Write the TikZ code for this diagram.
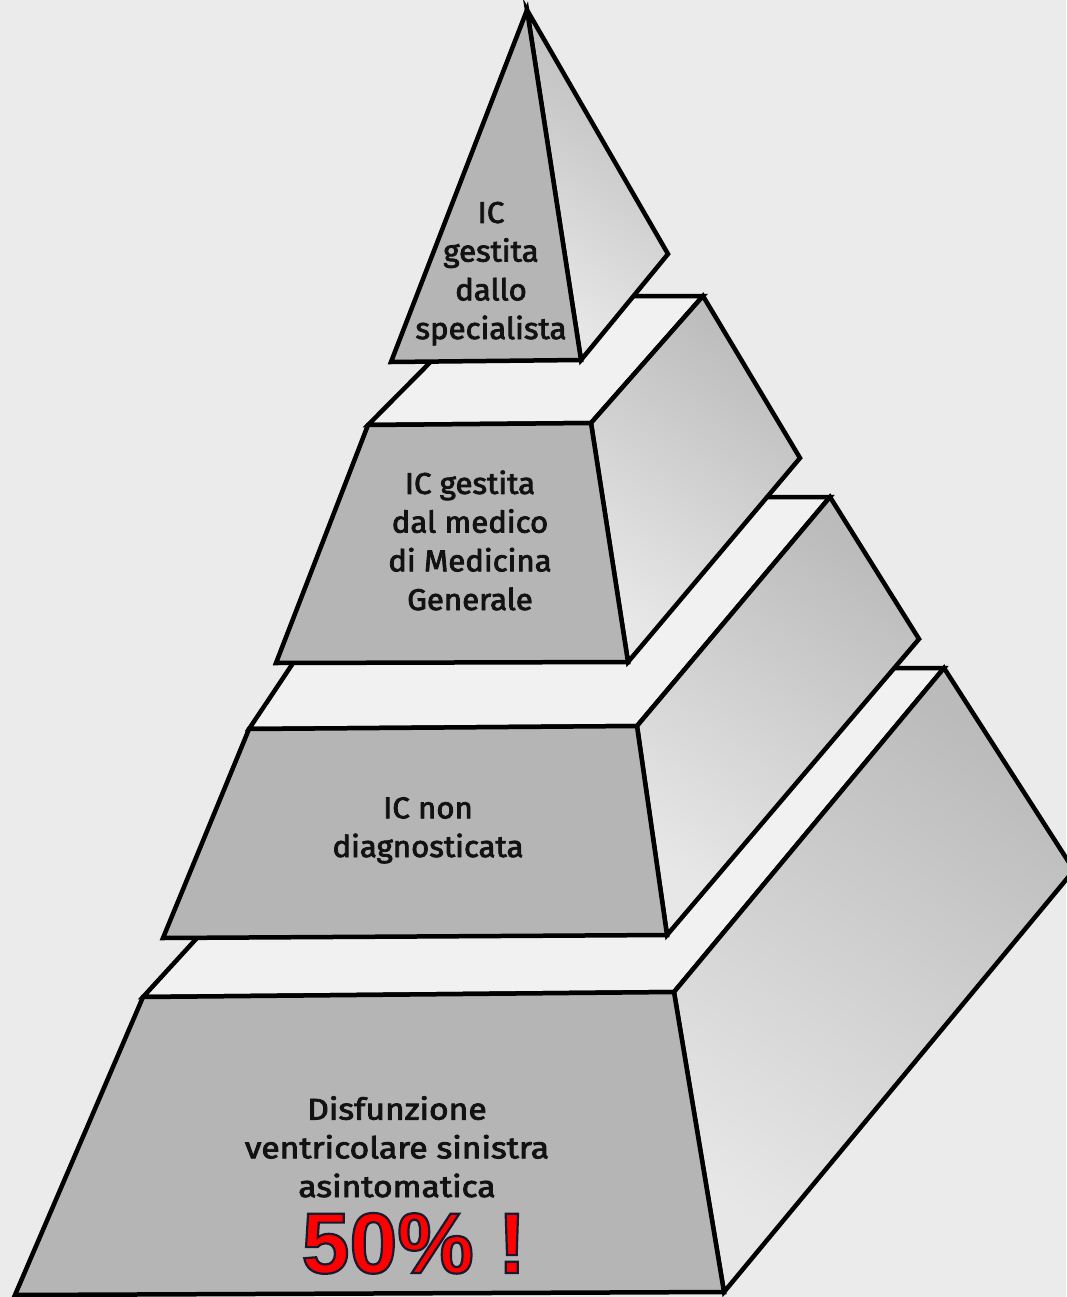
\documentclass[tikz,border=0pt]{standalone}
\usepackage{fontspec}
\setmainfont{Fira Sans}[FakeBold=2.6]
\newfontfamily\alarmfont{Liberation Sans}
\definecolor{bg}{HTML}{EBEBEB}
\definecolor{frontc}{HTML}{B5B5B5}
\definecolor{topc}{HTML}{F1F1F1}
\definecolor{sidedark}{HTML}{BBBBBB}
\definecolor{sidelight}{HTML}{E7E7E7}
\definecolor{alarm}{HTML}{FF0000}
\definecolor{ink}{HTML}{121212}
\begin{document}
\begin{tikzpicture}[x=1pt,y=-1pt,
  face/.style={draw=black, line width=4.5pt, line join=miter},
  frontface/.style={face, fill=frontc},
  topface/.style={face, fill=topc},
  sideface/.style={face, top color=sidedark, bottom color=sidelight, shading angle=-35},
  lbl/.style={font=\fontsize{30}{38.7}\selectfont, text=ink, align=center, inner sep=0pt, anchor=base, xscale=1.04}
]
\useasboundingbox (0,0) rectangle (1066,1297);
\fill[bg] (0,0) rectangle (1066,1297);

% tier 4 (bottom)
\draw[topface] (143,997) -- (674,992) -- (944,668) -- (444,668) -- cycle;
\draw[sideface] (674,992) -- (944,668) -- (1070,864) -- (1070,875) -- (724,1292) -- cycle;
\draw[frontface] (143,997) -- (674,992) -- (724,1292) -- (15,1295) -- cycle;

% tier 3
\draw[topface] (249,729) -- (637,726) -- (830,497) -- (404,497) -- cycle;
\draw[sideface] (637,726) -- (830,497) -- (919,639) -- (667,935) -- cycle;
\draw[frontface] (249,729) -- (637,726) -- (667,935) -- (163,938) -- cycle;

% tier 2
\draw[topface] (368,425) -- (591,423) -- (703,296) -- (496,296) -- cycle;
\draw[sideface] (591,423) -- (703,296) -- (800,458) -- (628,662) -- cycle;
\draw[frontface] (368,425) -- (591,423) -- (628,662) -- (276,663) -- cycle;

% pyramid
\draw[sideface] (527,10) -- (668,254) -- (581,360) -- cycle;
\draw[frontface] (527,10) -- (581,360) -- (391,362) -- cycle;

% labels (base anchor = baseline of the last line)
\node[lbl] (spec) at (491,339) {IC\\gestita\\dallo\\specialista};
\node[lbl] (mmg) at (470,610) {IC gestita\\dal medico\\di Medicina\\Generale};
\node[lbl] (nondiag) at (428,857) {IC non\\diagnosticata};
\node[lbl, xscale=1.08] (disf) at (397,1197) {Disfunzione\\ventricolare sinistra\\asintomatica};
\node[inner sep=0pt, anchor=base, text=alarm, font=\alarmfont\bfseries\fontsize{86}{86}\selectfont] (pct) at (414,1273)
  {\special{pdf:code 2 Tr 2.2 w 0.1 0.1 0.18 RG}50\% !\special{pdf:code 0 Tr}};
\end{tikzpicture}
\end{document}
